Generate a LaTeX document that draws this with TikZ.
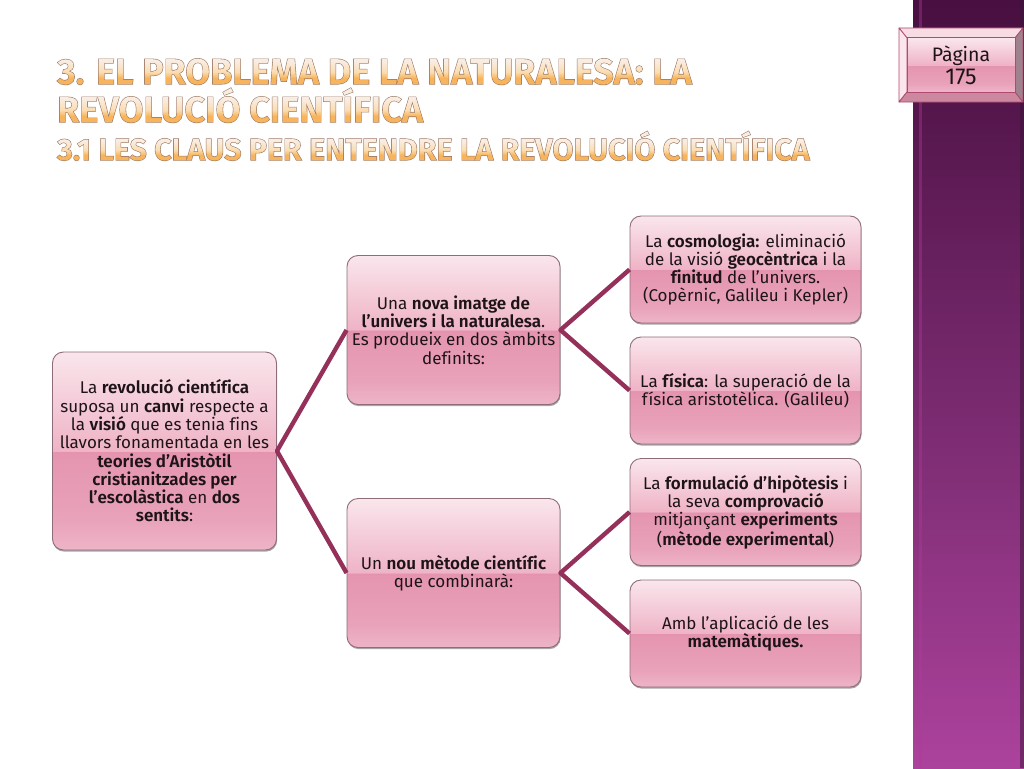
\documentclass[tikz,border=0pt]{standalone}
\usepackage{fontspec}
\setmainfont{Fira Sans}[BoldFont={Fira Sans SemiBold},Numbers=Lining,Ligatures=NoCommon]
\usetikzlibrary{calc,shadows}
\definecolor{conn}{HTML}{95305A}
\definecolor{edgec}{HTML}{8E6C7A}
\definecolor{inkc}{HTML}{1E1418}
\definecolor{titlefill}{HTML}{F9D9A8}
\definecolor{tabline}{HTML}{B04A70}
\definecolor{bA}{HTML}{EEB4C7}
\definecolor{bB}{HTML}{E8A2B9}
\definecolor{bC}{HTML}{E594AF}
\definecolor{bD}{HTML}{EFB3C6}
\definecolor{bE}{HTML}{FAE6EC}
\definecolor{sA}{HTML}{AC429C}
\definecolor{sB}{HTML}{7C2C72}
\definecolor{sC}{HTML}{480F40}
\definecolor{sEdge}{HTML}{3A1438}
\definecolor{sStrip}{HTML}{B03A98}
\definecolor{tA}{HTML}{F7B45C}
\definecolor{tB}{HTML}{FBDCB0}
\definecolor{tC}{HTML}{F8EDE2}
\pgfdeclareverticalshading{boxshade}{100bp}{
 color(0bp)=(bA);
 color(25bp)=(bA);
 color(33bp)=(bB);
 color(49.9bp)=(bC);
 color(50bp)=(bD);
 color(75bp)=(bE);
 color(100bp)=(bE)}
\pgfdeclareverticalshading{barshade}{100bp}{
 color(0bp)=(sA);
 color(25bp)=(sA);
 color(47bp)=(sB);
 color(75bp)=(sC);
 color(100bp)=(sC)}
\pgfdeclareverticalshading{bigtitle}{720bp}{
 color(0bp)=(tA);
 color(7bp)=(tA);
 color(13bp)=(tB);
 color(24bp)=(tC);
 color(40bp)=(tC)}
\pgfdeclareverticalshading{smalltitle}{780bp}{
 color(0bp)=(tA);
 color(6bp)=(tA);
 color(11bp)=(tB);
 color(20bp)=(tC);
 color(34bp)=(tC)}
\tikzset{
 box/.style={draw=edgec,line width=.9pt,rounded corners=11pt,shading=boxshade,
   align=center,text=inkc,font=\fontsize{17}{18.3}\selectfont,inner sep=0pt,anchor=center,
   drop shadow={shadow xshift=.6pt,shadow yshift=-1.6pt,opacity=.35,fill=black}},
 link/.style={draw=conn,line width=4.4pt,line cap=butt,line join=round},
 ttl/.style={anchor=west,inner sep=0pt,align=left,text=titlefill}
}
\newcommand{\outl}[2]{\special{pdf:bcontent}\special{pdf:code 6 Tr 1.15 w 0.62 0.48 0.40 RG}\rlap{#2}\rlap{\raisebox{-1pt}{\pgfuseshading{#1}}}\special{pdf:econtent}\phantom{#2}}
\begin{document}
\begin{tikzpicture}[x=1pt,y=-1pt]
\useasboundingbox (0,0) rectangle (1024,768);
\fill[white] (0,0) rectangle (1024,768);
% sidebar
\shade[shading=barshade] (913,0) rectangle (1024,768);
\fill[sStrip,opacity=.4] (919,0) rectangle (922,768);
\fill[sEdge,opacity=.5] (1020,0) rectangle (1024,768);
% title
\node[ttl,font=\fontsize{36}{36}\bfseries\selectfont] (t1) at (57,65) {\outl{bigtitle}{3. EL PROBLEMA DE LA NATURALESA: LA}};
\node[ttl,font=\fontsize{36}{36}\bfseries\selectfont] (t2) at (57,103) {\outl{bigtitle}{REVOLUCIÓ CIENTÍFICA}};
\node[ttl,font=\fontsize{30.4}{30.4}\bfseries\selectfont] (t3) at (57,144) {\outl{smalltitle}{3.1 LES CLAUS PER ENTENDRE LA REVOLUCIÓ CIENTÍFICA}};
% nodes
\node[box,minimum width=224pt,minimum height=198pt] (root) at (164.5,451) {La \textbf{revolució científica}\\suposa un \textbf{canvi} respecte a\\la \textbf{visió} que es tenia fins\\llavors fonamentada en les\\\textbf{teories d’Aristòtil}\\\textbf{cristianitzades per}\\\textbf{l’escolàstica} en \textbf{dos}\\\textbf{sentits}:};
\node[box,minimum width=213pt,minimum height=149pt] (a) at (453.5,330) {Una \textbf{nova imatge de}\\\textbf{l’univers i la naturalesa}.\\Es produeix en dos àmbits\\definits:};
\node[box,minimum width=213pt,minimum height=149pt] (b) at (453.5,573) {Un \textbf{nou mètode científic}\\que combinarà:};
\node[box,minimum width=231pt,minimum height=107pt] (c1) at (745.5,269.5) {La \textbf{cosmologia:} eliminació\\de la visió \textbf{geocèntrica} i la\\\textbf{finitud} de l’univers.\\(Copèrnic, Galileu i Kepler)};
\node[box,minimum width=231pt,minimum height=107pt] (c2) at (745.5,390.5) {La \textbf{física}: la superació de la\\física aristotèlica. (Galileu)};
\node[box,minimum width=231pt,minimum height=107pt] (c3) at (745.5,512) {La \textbf{formulació d’hipòtesis} i\\la seva \textbf{comprovació}\\mitjançant \textbf{experiments}\\(\textbf{mètode experimental})};
\node[box,minimum width=231pt,minimum height=107pt] (c4) at (745.5,633.5) {Amb l’aplicació de les\\\textbf{matemàtiques.}};
% connectors
\draw[link] (c1.west) -- (a.east) -- (c2.west);
\draw[link] (c3.west) -- (b.east) -- (c4.west);
\draw[link] (a.west) -- (root.east) -- (b.west);
% page tab
\coordinate (o1) at (899,28);\coordinate (o2) at (1023,28);\coordinate (o3) at (1023,102);\coordinate (o4) at (899,102);
\coordinate (i1) at (907,38);\coordinate (i2) at (1015,38);\coordinate (i3) at (1015,92);\coordinate (i4) at (907,92);
\filldraw[draw=tabline,fill=bE!80!bD,line width=.8pt,line join=round] (o1)--(o2)--(i2)--(i1)--cycle;
\filldraw[draw=tabline,fill=bE,line width=.8pt,line join=round] (o1)--(i1)--(i4)--(o4)--cycle;
\filldraw[draw=tabline,fill=bC!70!edgec,line width=.8pt,line join=round] (o4)--(i4)--(i3)--(o3)--cycle;
\filldraw[draw=tabline,fill=edgec!85!white,line width=.8pt,line join=round] (o2)--(o3)--(i3)--(i2)--cycle;
\node[draw=tabline,line width=1pt,shading=boxshade,minimum width=108pt,minimum height=54pt,align=center,inner sep=0pt,text=inkc,font=\fontsize{19.5}{23}\selectfont] (tab) at (961,65) {Pàgina\\{\fontsize{23}{23}\selectfont 175}};
\end{tikzpicture}
\end{document}
